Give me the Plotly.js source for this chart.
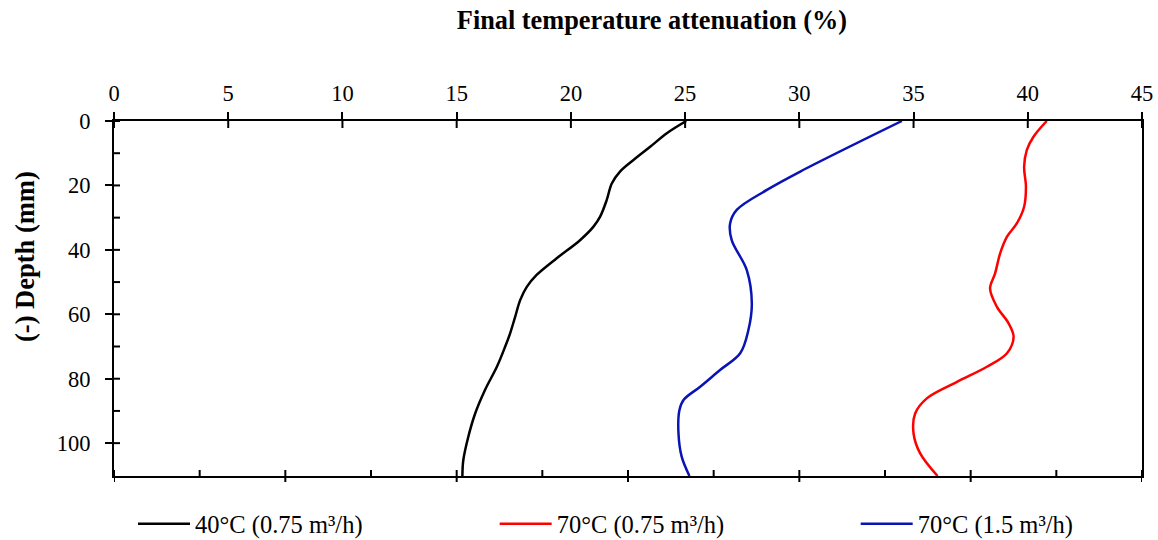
<!DOCTYPE html>
<html>
<head>
<meta charset="utf-8">
<script src="https://cdn.plot.ly/plotly-3.0.1.min.js"></script>
<style>
  html, body { margin: 0; padding: 0; background: #ffffff; }
  #chart { width: 1158px; height: 540px; }
</style>
</head>
<body>
<div id="chart"></div>
<script>
// Depth profiles of the final temperature attenuation for three test conditions.
const seriesNames = ['40°C (0.75 m³/h)', '70°C (0.75 m³/h)', '70°C (1.5 m³/h)'];
const seriesColors = ['#000000', '#ff0000', '#0a14b4'];

// 40°C, 0.75 m³/h
const depth40 = [0, 3.8, 8, 12.1, 15.7, 19.4, 24.5, 29.7, 32.8, 37, 42.6, 47.8, 51.5, 55.6, 60.8, 65.9, 70.1, 76.3, 83.5, 90.8, 98, 105.3, 110.2];
const atten40 = [25.05, 24.2, 23.47, 22.74, 22.15, 21.79, 21.57, 21.28, 20.99, 20.4, 19.38, 18.5, 18.07, 17.78, 17.56, 17.34, 17.12, 16.76, 16.24, 15.81, 15.51, 15.29, 15.25];

// 70°C, 0.75 m³/h
const depth70a = [0, 4.9, 9, 14.2, 20.4, 26.6, 31.8, 35.9, 41.1, 47.3, 52, 57.7, 62.8, 67, 72.1, 76.3, 81, 86.1, 90.8, 97, 103.2, 110.2];
const atten70a = [40.83, 40.25, 39.96, 39.84, 39.92, 39.84, 39.52, 39.09, 38.79, 38.57, 38.35, 38.65, 39.16, 39.38, 39.09, 38.21, 36.9, 35.58, 35.07, 35.0, 35.29, 36.05];

// 70°C, 1.5 m³/h
const depth70b = [0, 15.7, 21.4, 27.6, 31.8, 37, 46.3, 56.6, 64.9, 72.1, 77.3, 82.5, 86.6, 89.8, 97, 104.2, 110.2];
const atten70b = [34.49, 30.04, 28.58, 27.26, 26.97, 27.04, 27.7, 27.92, 27.77, 27.41, 26.53, 25.66, 24.93, 24.75, 24.71, 24.85, 25.19];

// Tick positions: labelled top axis, unlabelled bottom frame, depth axis
const xTicks = [0, 5, 10, 15, 20, 25, 30, 35, 40, 45];
const bottomMajor = [0, 7.5, 15, 22.5, 30, 37.5, 45];
const bottomMinor = [3.75, 11.25, 18.75, 26.25, 33.75, 41.25];
const yTicks = [0, 20, 40, 60, 80, 100];
const yMinor = [10, 30, 50, 70, 90];

const FONT = '"Times New Roman", "Liberation Serif", serif';
const xRange = [0, 45];
const yRange = [110.2, 0];

function profile(name, color, xs, ys, legendId) {
  return {
    type: 'scatter', mode: 'lines', name: name,
    x: xs, y: ys, xaxis: 'x', yaxis: 'y', legend: legendId,
    line: { color: color, width: 2.5, shape: 'spline', smoothing: 1 },
    hoverinfo: 'x+y'
  };
}

const traces = [
  profile(seriesNames[0], seriesColors[0], atten40, depth40, 'legend'),
  profile(seriesNames[1], seriesColors[1], atten70a, depth70a, 'legend2'),
  profile(seriesNames[2], seriesColors[2], atten70b, depth70b, 'legend3')
];

// Tick marks that Plotly axes cannot draw directly (crossing / inside parts)
const tickLine = { color: '#000000', width: 2 };
const shapes = [];
xTicks.forEach(v => shapes.push({
  type: 'line', xref: 'x', yref: 'paper', x0: v, x1: v,
  ysizemode: 'pixel', yanchor: 1, y0: 0, y1: -7, line: tickLine
}));
bottomMajor.forEach(v => shapes.push({
  type: 'line', xref: 'x', yref: 'paper', x0: v, x1: v,
  ysizemode: 'pixel', yanchor: 0, y0: -6, y1: 6, line: tickLine
}));
bottomMinor.forEach(v => shapes.push({
  type: 'line', xref: 'x', yref: 'paper', x0: v, x1: v,
  ysizemode: 'pixel', yanchor: 0, y0: 0, y1: 6, line: tickLine
}));
yTicks.concat(yMinor).forEach(v => shapes.push({
  type: 'line', xref: 'paper', yref: 'y', y0: v, y1: v,
  xsizemode: 'pixel', xanchor: 0, x0: 0, x1: 6, line: tickLine
}));

function legendAt(x) {
  return {
    orientation: 'h',
    xref: 'paper', x: x, xanchor: 'left',
    yref: 'paper', y: -0.135, yanchor: 'middle',
    font: { family: FONT, size: 24.5, color: '#000000' },
    itemwidth: 52,
    bgcolor: 'rgba(0,0,0,0)', borderwidth: 0
  };
}

const layout = {
  width: 1158, height: 540,
  margin: { l: 114, r: 16, t: 121, b: 64, pad: 0, autoexpand: false },
  paper_bgcolor: '#ffffff', plot_bgcolor: '#ffffff',
  font: { family: FONT, color: '#000000', size: 22.5 },
  showlegend: true,
  title: {
    text: '<b>Final temperature attenuation (%)</b>',
    font: { family: FONT, size: 26.3, color: '#000000' },
    xref: 'container', x: 0.563, xanchor: 'center',
    yref: 'container', y: 0.963, yanchor: 'middle'
  },
  xaxis: {
    side: 'top', anchor: 'y', range: xRange, fixedrange: true, automargin: false,
    tickmode: 'array', tickvals: xTicks, ticktext: xTicks.map(String),
    ticks: 'outside', ticklen: 7, tickwidth: 2, tickcolor: '#000000',
    tickfont: { family: FONT, size: 22.5, color: '#000000' },
    ticklabelstandoff: 2,
    showgrid: false, zeroline: false,
    showline: true, linecolor: '#000000', linewidth: 2, mirror: true
  },
  yaxis: {
    range: yRange, anchor: 'x', fixedrange: true, automargin: false,
    tickmode: 'array', tickvals: yTicks, ticktext: yTicks.map(String),
    ticks: 'outside', ticklen: 7, tickwidth: 2, tickcolor: '#000000',
    tickfont: { family: FONT, size: 22.5, color: '#000000' },
    ticklabelstandoff: 10,
    showgrid: false, zeroline: false,
    showline: true, linecolor: '#000000', linewidth: 2, mirror: true
  },
  legend: legendAt(0.0185),
  legend2: legendAt(0.3703),
  legend3: legendAt(0.7215),
  shapes: shapes,
  annotations: [{
    text: '<b>(-) Depth (mm)</b>',
    xref: 'paper', yref: 'paper', x: -0.0866, y: 0.6197,
    xanchor: 'center', yanchor: 'middle', textangle: -90, showarrow: false,
    font: { family: FONT, size: 26.5, color: '#000000' }
  }]
};

Plotly.newPlot('chart', traces, layout, { displayModeBar: false, staticPlot: true });
</script>
</body>
</html>
